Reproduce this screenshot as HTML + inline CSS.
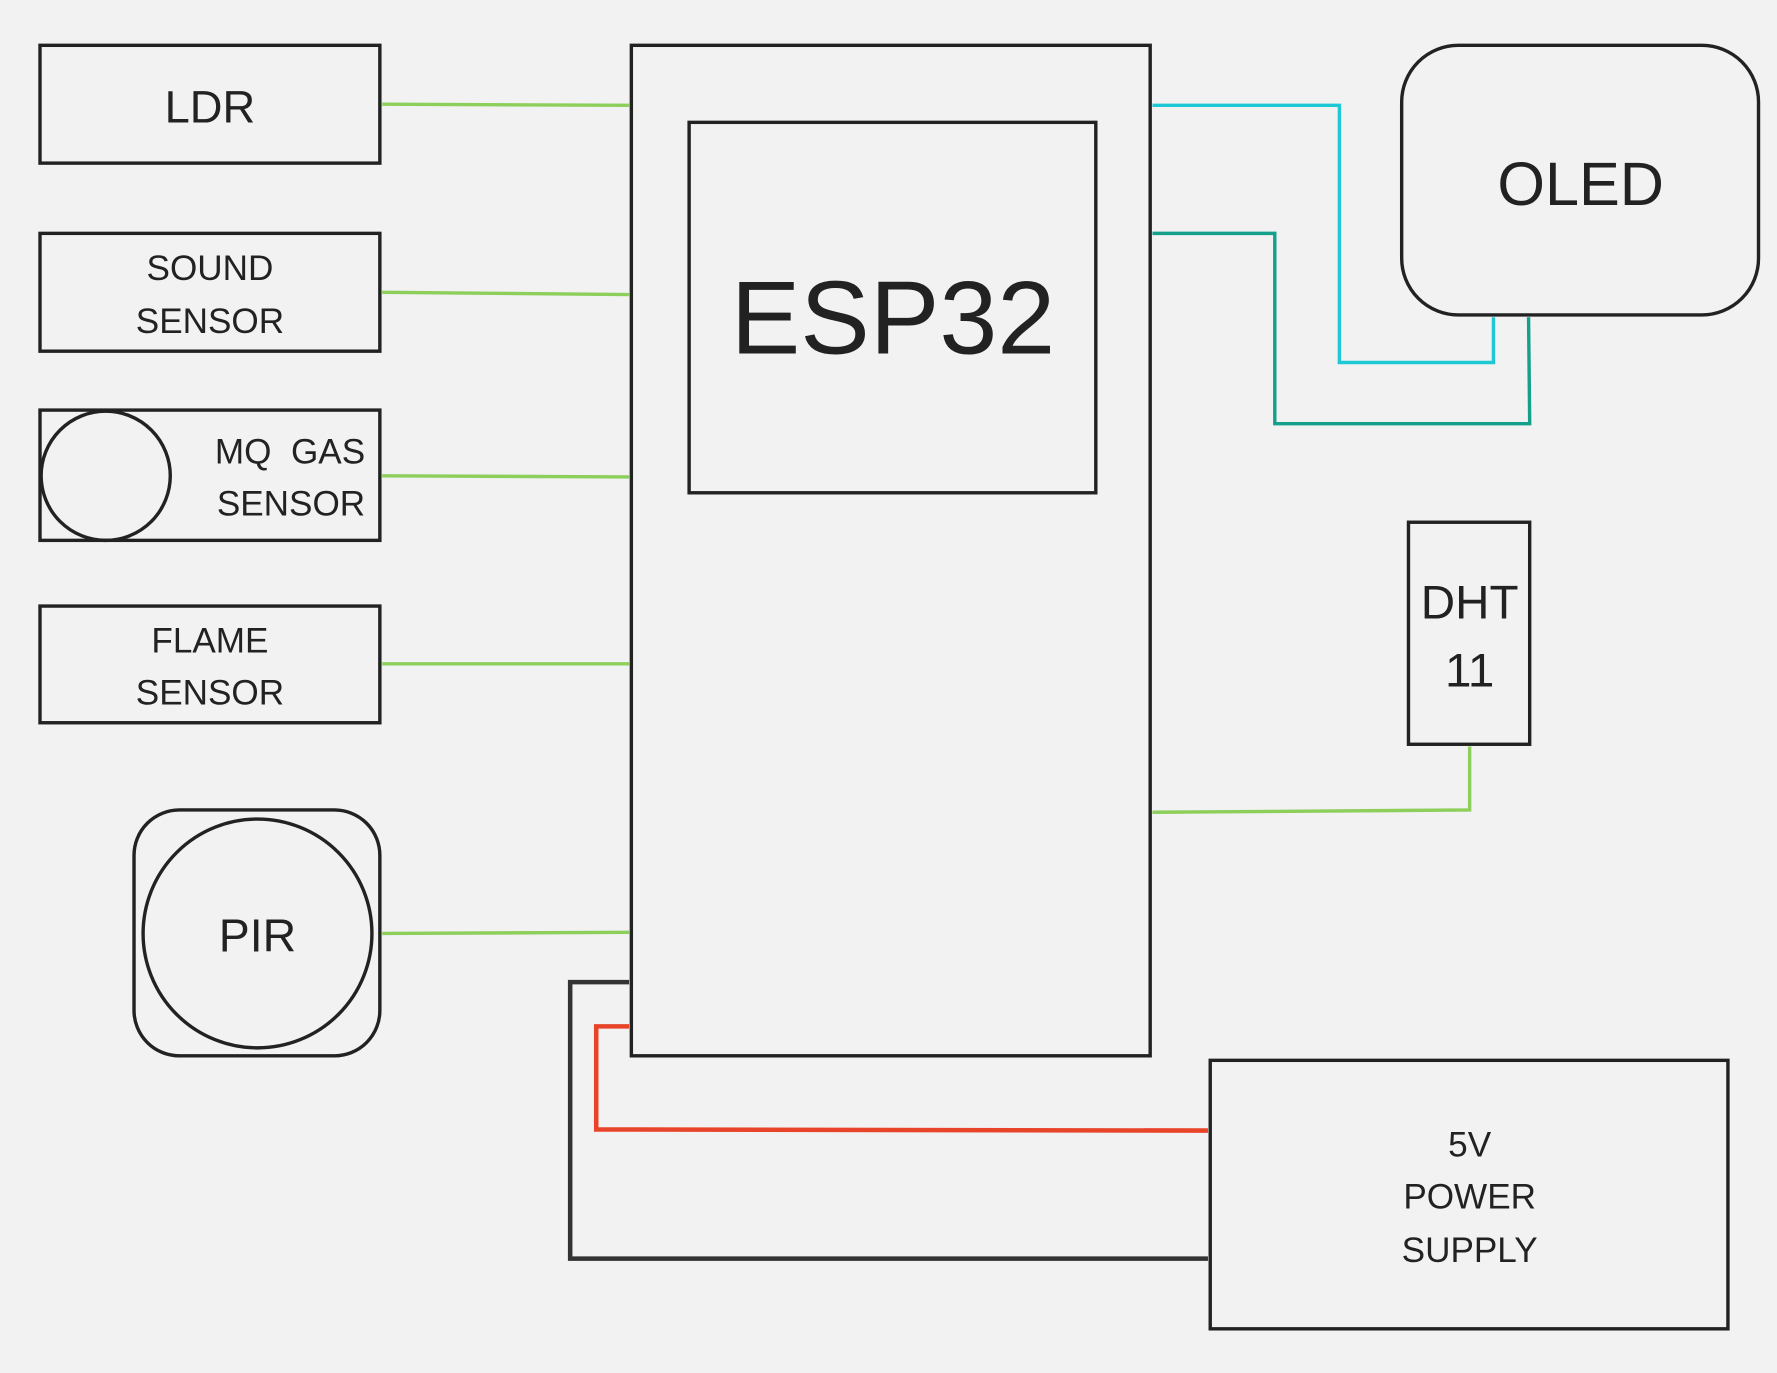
<!DOCTYPE html>
<html><head><meta charset="utf-8"><style>
html,body{margin:0;padding:0;background:#f2f2f2;}
svg{display:block;}
text{font-family:"Liberation Sans","DejaVu Sans",sans-serif;fill:#222;}
</style></head><body>
<svg width="1777" height="1373" viewBox="0 0 1568 1212" xmlns="http://www.w3.org/2000/svg">
<rect width="1568" height="1212" fill="#f2f2f2"/>
<g fill="none" stroke-linejoin="miter">
<g stroke="#8ccf5a" stroke-width="3">
<path d="M337 92 L555 93"/>
<path d="M337 258 L555 260"/>
<path d="M337 420 L555 421"/>
<path d="M337 586 L555 586"/>
<path d="M337 824 L555 823"/>
<path d="M1017 717 L1297 715 L1297 659"/>
</g>
<path d="M1017 93 L1182 93 L1182 320 L1318 320 L1318 280" stroke="#1ec8d4" stroke-width="3"/>
<path d="M1017 206 L1125 206 L1125 374 L1350 374 L1349 280" stroke="#14a08a" stroke-width="3"/>
<path d="M555 867 L503 867 L503 1111 L1066 1111" stroke="#333" stroke-width="4"/>
<path d="M555 906 L526 906 L526 997 L1066 998" stroke="#e8442a" stroke-width="4"/>
<g stroke="#222" stroke-width="3">
<rect x="35" y="40" width="300" height="104"/>
<rect x="35" y="206" width="300" height="104"/>
<rect x="35" y="362" width="300" height="115"/>
<circle cx="93" cy="420" r="57"/>
<rect x="35" y="535" width="300" height="103"/>
<rect x="118" y="715" width="217" height="217" rx="40"/>
<circle cx="227" cy="824" r="101"/>
<rect x="557" y="40" width="458" height="892"/>
<rect x="608" y="108" width="359" height="327"/>
<rect x="1237" y="40" width="315" height="238" rx="50"/>
<rect x="1243" y="461" width="107" height="196"/>
<rect x="1068" y="936" width="457" height="237"/>
</g>
</g>
<g text-anchor="middle">
<text x="185" y="108" font-size="40">LDR</text>
<text x="185" y="247" font-size="31">SOUND</text>
<text x="185" y="294" font-size="31">SENSOR</text>
<text x="322" y="409" font-size="31" text-anchor="end" xml:space="preserve">MQ  GAS</text>
<text x="322" y="455" font-size="31" text-anchor="end">SENSOR</text>
<text x="185" y="576" font-size="31">FLAME</text>
<text x="185" y="622" font-size="31">SENSOR</text>
<text x="227" y="840" font-size="41">PIR</text>
<text x="788" y="312" font-size="92">ESP32</text>
<text x="1395" y="181" font-size="54">OLED</text>
<text x="1297" y="546" font-size="42">DHT</text>
<text x="1297" y="606" font-size="42">11</text>
<text x="1297" y="1021" font-size="31">5V</text>
<text x="1297" y="1067" font-size="31">POWER</text>
<text x="1297" y="1114" font-size="31">SUPPLY</text>
</g>
</svg>
</body></html>
